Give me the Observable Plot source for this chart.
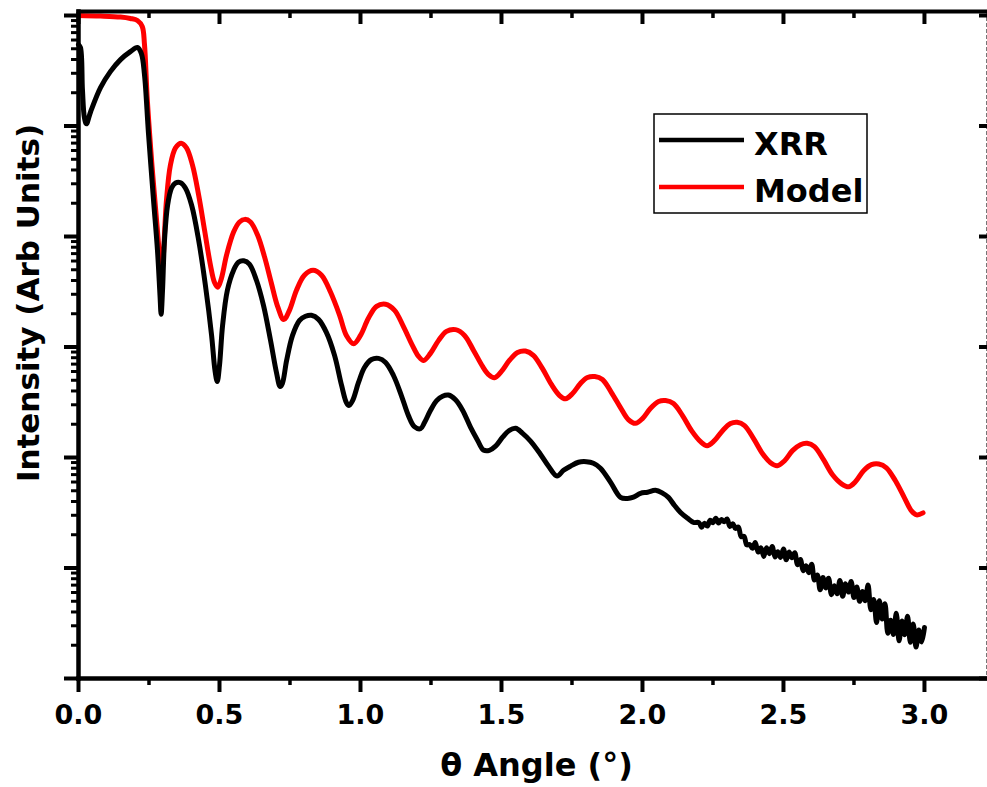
<!DOCTYPE html>
<html><head><meta charset="utf-8">
<script src="https://cdn.jsdelivr.net/npm/d3@7"></script>
<script src="https://cdn.jsdelivr.net/npm/@observablehq/plot@0.6"></script>
<style>body{margin:0;background:#fff} #chart{width:987px;height:787px}</style>
</head><body><div id="chart"></div>
<script>
// ---- data (theta in degrees, intensity as log10) ----
const xrrTheta = [
0,0.007,0.014,0.021,0.028,0.043,0.078,0.113,0.149,0.184,0.209,0.223,0.234,0.248,0.266,0.280,0.289,0.293,0.298,0.305,0.316,0.330,0.344,0.362,0.379,0.401,0.426,0.450,0.472,0.484,0.492,0.500,0.511,0.528,0.550,0.567,0.586,0.606,0.631,0.656,0.681,0.702,0.715,0.723,0.738,0.759,0.784,0.805,0.826,0.851,0.879,0.908,0.933,0.950,0.959,0.972,0.993,1.014,1.039,1.064,1.089,1.117,1.145,1.170,1.191,1.213,1.227,1.248,1.270,1.291,1.312,1.337,1.362,1.390,1.415,1.436,1.457,1.479,1.504,1.525,1.550,1.574,1.603,1.638,1.667,1.697,1.720,1.745,1.773,1.801,1.826,1.851,1.887,1.922,1.947,1.968,1.993,2.018,2.046,2.071,2.092,2.113,2.135,2.160,2.181,
2.20,2.21,2.22,2.23,2.24,2.25,2.26,2.27,2.28,2.29,2.30,2.31,2.32,2.33,2.34,2.35,2.36,2.37,2.38,2.39,
2.40,2.41,2.42,2.43,2.44,2.45,2.46,2.47,2.48,2.49,2.50,2.51,2.52,2.53,2.54,2.55,2.56,2.57,2.58,2.59,
2.60,2.61,2.62,2.63,2.64,2.65,2.66,2.67,2.68,2.69,2.70,2.71,2.72,2.73,2.74,2.75,2.76,2.77,2.78,2.79,
2.80,2.81,2.82,2.83,2.84,2.85,2.86,2.87,2.88,2.89,2.90,2.91,2.92,2.93,2.94,2.95,2.96,2.97,2.98,2.99,3.00];
const xrrLog10 = [
-0.263,-0.290,-0.672,-0.926,-0.980,-0.871,-0.653,-0.508,-0.399,-0.327,-0.290,-0.345,-0.535,-1.062,-1.670,-2.123,-2.532,-2.704,-2.486,-2.033,-1.715,-1.561,-1.515,-1.513,-1.561,-1.715,-2.033,-2.441,-2.895,-3.212,-3.312,-3.167,-2.804,-2.486,-2.305,-2.232,-2.220,-2.250,-2.396,-2.623,-2.940,-3.230,-3.358,-3.330,-3.122,-2.895,-2.759,-2.722,-2.713,-2.750,-2.868,-3.076,-3.348,-3.503,-3.530,-3.485,-3.321,-3.185,-3.113,-3.103,-3.140,-3.258,-3.439,-3.621,-3.721,-3.739,-3.684,-3.575,-3.485,-3.445,-3.435,-3.478,-3.572,-3.725,-3.843,-3.932,-3.935,-3.897,-3.816,-3.760,-3.736,-3.779,-3.852,-3.970,-4.079,-4.168,-4.116,-4.078,-4.043,-4.038,-4.052,-4.097,-4.225,-4.360,-4.370,-4.359,-4.324,-4.314,-4.297,-4.322,-4.361,-4.432,-4.497,-4.550,-4.588,
-4.589,-4.631,-4.595,-4.621,-4.567,-4.590,-4.549,-4.593,-4.561,-4.582,-4.557,-4.624,-4.599,-4.642,-4.629,-4.716,-4.714,-4.791,-4.787,-4.821,
-4.769,-4.856,-4.816,-4.895,-4.816,-4.870,-4.806,-4.901,-4.852,-4.904,-4.829,-4.926,-4.855,-4.908,-4.861,-4.971,-4.923,-5.024,-4.980,-5.043,
-4.965,-5.109,-5.063,-5.197,-5.087,-5.180,-5.092,-5.241,-5.161,-5.233,-5.113,-5.256,-5.143,-5.218,-5.123,-5.268,-5.172,-5.302,-5.213,-5.296,
-5.154,-5.378,-5.285,-5.494,-5.297,-5.462,-5.324,-5.591,-5.472,-5.601,-5.410,-5.659,-5.480,-5.603,-5.436,-5.673,-5.506,-5.716,-5.562,-5.669,-5.538];

const modelTheta = [
0,0.078,0.149,0.184,0.209,0.226,0.234,0.244,0.261,0.279,0.289,0.294,0.301,0.312,0.326,0.344,0.364,0.383,0.404,0.426,0.447,0.468,0.482,0.494,0.507,0.525,0.550,0.571,0.590,0.610,0.635,0.660,0.684,0.706,0.728,0.748,0.773,0.801,0.832,0.862,0.894,0.926,0.950,0.976,1.000,1.028,1.057,1.089,1.121,1.152,1.184,1.206,1.224,1.248,1.277,1.305,1.337,1.369,1.401,1.433,1.454,1.475,1.500,1.528,1.557,1.585,1.613,1.645,1.677,1.706,1.727,1.752,1.780,1.805,1.831,1.858,1.890,1.922,1.950,1.975,2.000,2.028,2.057,2.082,2.110,2.142,2.174,2.206,2.229,2.255,2.284,2.312,2.336,2.362,2.394,2.426,2.454,2.478,2.504,2.532,2.560,2.584,2.610,2.642,2.674,2.706,2.732,2.755,2.784,2.812,2.838,2.865,2.897,2.929,2.954,2.972,2.995];
const modelLog10 = [
0,-0.005,-0.014,-0.027,-0.045,-0.100,-0.263,-0.762,-1.370,-1.915,-2.232,-2.377,-2.169,-1.670,-1.352,-1.198,-1.155,-1.198,-1.352,-1.624,-1.942,-2.260,-2.414,-2.459,-2.377,-2.169,-1.960,-1.869,-1.845,-1.869,-1.987,-2.187,-2.423,-2.632,-2.752,-2.668,-2.486,-2.350,-2.305,-2.350,-2.505,-2.713,-2.895,-2.970,-2.895,-2.740,-2.632,-2.613,-2.668,-2.813,-2.985,-3.085,-3.122,-3.058,-2.940,-2.858,-2.843,-2.895,-3.031,-3.176,-3.249,-3.279,-3.221,-3.122,-3.049,-3.037,-3.076,-3.194,-3.339,-3.439,-3.469,-3.421,-3.330,-3.276,-3.267,-3.294,-3.412,-3.548,-3.657,-3.691,-3.648,-3.557,-3.494,-3.485,-3.512,-3.621,-3.757,-3.857,-3.893,-3.848,-3.757,-3.693,-3.681,-3.711,-3.829,-3.966,-4.047,-4.074,-4.029,-3.938,-3.884,-3.872,-3.902,-4.020,-4.156,-4.238,-4.265,-4.220,-4.120,-4.065,-4.059,-4.093,-4.211,-4.365,-4.483,-4.519,-4.501];

const seriesNames = ["XRR", "Model"];
const seriesColors = ["#000000", "#ff0000"];
const xMajorTicks = [0, 0.5, 1.0, 1.5, 2.0, 2.5, 3.0];
const xMinorTicks = [0.25, 0.75, 1.25, 1.75, 2.25, 2.75];
const yDecadeTicks = [1e-6, 1e-5, 1e-4, 1e-3, 1e-2, 1e-1, 1];
const yMinorTicks = [];
for (const d of yDecadeTicks.slice(0, -1)) for (let k = 2; k <= 9; k++) yMinorTicks.push(k * d);
const xTitle = "θ Angle (°)";
const yTitle = "Intensity (Arb Units)";

const xrrData = xrrTheta.map((t, i) => ({theta: t, I: Math.pow(10, xrrLog10[i])}));
const modelData = modelTheta.map((t, i) => ({theta: t, I: Math.pow(10, modelLog10[i])}));

const FONT = "'DejaVu Sans', Verdana, sans-serif";
const blank = () => "";
const plot = Plot.plot({
  width: 987, height: 787,
  marginLeft: 78, marginRight: 1, marginTop: 11, marginBottom: 109,
  x: {domain: [0, 3.22]},
  y: {type: "log", domain: [1e-6, 1.087]},
  style: {fontFamily: FONT, fontWeight: "bold", background: "#fff", color: "#000", overflow: "visible"},
  marks: [
    Plot.lineY(modelData, {x: "theta", y: "I", stroke: seriesColors[1], strokeWidth: 5, curve: "catmull-rom"}),
    Plot.lineY(xrrData, {x: "theta", y: "I", stroke: seriesColors[0], strokeWidth: 5, curve: "catmull-rom"}),
    // frame
    Plot.frame({anchor: "right", stroke: "#777", strokeWidth: 1, strokeDasharray: "3,3"}),
    Plot.frame({anchor: "top", stroke: "#000", strokeWidth: 4}),
    Plot.frame({anchor: "left", stroke: "#000", strokeWidth: 4.5}),
    Plot.frame({anchor: "bottom", stroke: "#000", strokeWidth: 4.5}),
    // bottom axis
    Plot.axisX({anchor: "bottom", ticks: xMajorTicks, tickSize: 14, strokeWidth: 4, tickFormat: d => d.toFixed(1), fontSize: 27, tickPadding: 12, label: null}),
    Plot.axisX({anchor: "bottom", ticks: xMinorTicks, tickSize: 7, strokeWidth: 3.5, tickFormat: blank, label: null}),
    // top axis (inward)
    Plot.axisX({anchor: "top", ticks: xMajorTicks, tickSize: -12, strokeWidth: 4, tickFormat: blank, label: null}),
    Plot.axisX({anchor: "top", ticks: xMinorTicks, tickSize: -6, strokeWidth: 3.5, tickFormat: blank, label: null}),
    // left axis
    Plot.axisY({anchor: "left", ticks: yDecadeTicks, tickSize: 14, strokeWidth: 4, tickFormat: blank, label: null}),
    Plot.axisY({anchor: "left", ticks: yMinorTicks, tickSize: 7, strokeWidth: 3, tickFormat: blank, label: null}),
    // right axis (inward)
    Plot.axisY({anchor: "right", ticks: yDecadeTicks, tickSize: -8, strokeWidth: 4, tickFormat: blank, label: null}),
    // titles
    Plot.text([xTitle], {text: d => d, frameAnchor: "bottom", textAnchor: "middle", lineAnchor: "bottom", dy: 97, dx: 4, fontSize: 32, fontWeight: "bold"}),
    Plot.text([yTitle], {text: d => d, frameAnchor: "left", textAnchor: "middle", lineAnchor: "middle", rotate: -90, dx: -49, dy: -42, fontSize: 31, fontWeight: "bold"})
  ]
});
document.getElementById("chart").appendChild(plot);

// legend
const svg = d3.select(plot);
const lg = svg.append("g").attr("font-family", FONT).attr("font-weight", "bold").attr("font-size", 32).attr("text-anchor", "start");
lg.append("rect").attr("x", 654).attr("y", 114).attr("width", 213).attr("height", 99).attr("fill", "#fff").attr("stroke", "#000").attr("stroke-width", 1.5);
seriesNames.forEach((name, i) => {
  const cy = 140 + i * 47;
  lg.append("line").attr("x1", 659).attr("x2", 744).attr("y1", cy).attr("y2", cy).attr("stroke", seriesColors[i]).attr("stroke-width", 4.5);
  lg.append("text").attr("x", 754).attr("y", cy + 15).attr("fill", "#000").attr("text-anchor", "start").text(name);
});
</script>
</body></html>
